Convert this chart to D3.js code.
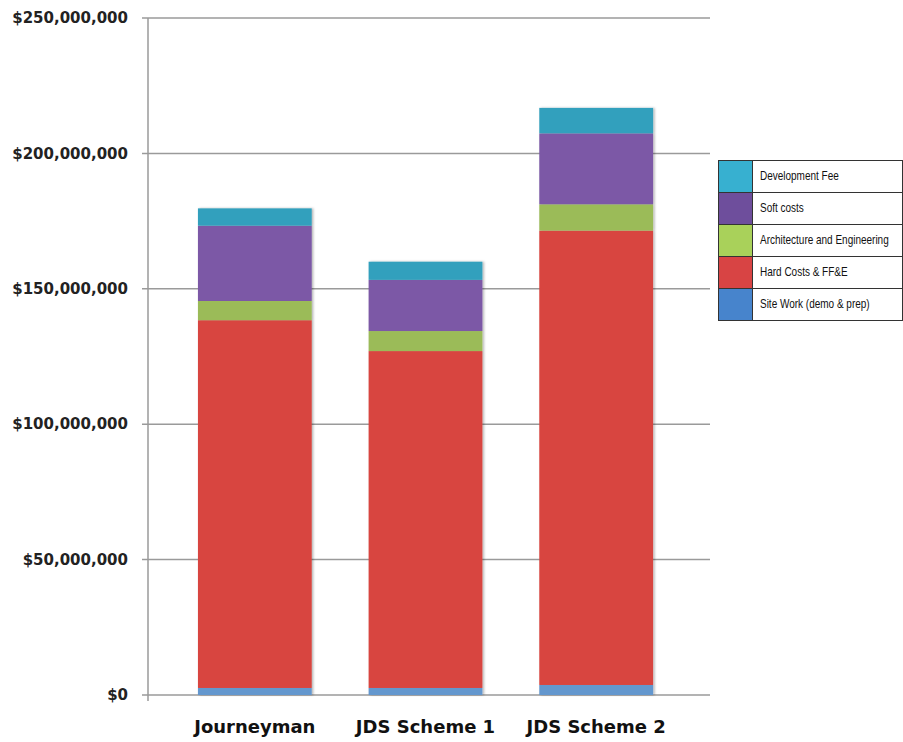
<!DOCTYPE html>
<html><head><meta charset="utf-8">
<script src="https://cdn.jsdelivr.net/npm/d3@7"></script>
<style>body{margin:0;background:#fff;}svg{display:block;}</style>
</head><body>
<svg id="chart" width="903" height="742"></svg>
<script>
const categories = ["Journeyman", "JDS Scheme 1", "JDS Scheme 2"];
const seriesNames = ["Site Work (demo & prep)", "Hard Costs & FF&E", "Architecture and Engineering", "Soft costs", "Development Fee"];
const siteWork    = [2.6e6, 2.6e6, 3.7e6];
const hardCosts   = [135.8e6, 124.4e6, 167.8e6];
const archEng     = [7.1e6, 7.4e6, 9.7e6];
const softCosts   = [27.8e6, 18.9e6, 26.2e6];
const devFee      = [6.4e6, 6.7e6, 9.4e6];
const tickValues  = [0, 50e6, 100e6, 150e6, 200e6, 250e6];
const barColors    = ["#6497CE", "#D84540", "#9BBB59", "#7B58A6", "#31A0BD"];
const legendColors = ["#4784CC", "#D84444", "#A9D15A", "#6E4E9C", "#37B0D0"];

const svg = d3.select("#chart");
const plot = {left: 148, right: 710, top: 18, bottom: 695};
const y = d3.scaleLinear().domain([0, 250e6]).range([plot.bottom, plot.top]);
const x = d3.scaleBand().domain(categories).range([169.5, 681.5]).paddingInner(1/3).paddingOuter(1/6);

// gridlines
svg.append("g").selectAll("line").data(tickValues).join("line")
  .attr("x1", plot.left - 6).attr("x2", plot.right)
  .attr("y1", d => y(d)).attr("y2", d => y(d))
  .attr("stroke", "#9a9a9a").attr("stroke-width", 1.5);

// y axis line
svg.append("line").attr("x1", plot.left).attr("x2", plot.left)
  .attr("y1", plot.top).attr("y2", plot.bottom + 6)
  .attr("stroke", "#9a9a9a").attr("stroke-width", 1.5);

// y tick labels
const fmt = d => "$" + d3.format(",")(d);
svg.append("g").selectAll("text").data(tickValues).join("text")
  .attr("x", 128).attr("y", d => y(d)).attr("dy", "0.35em")
  .attr("text-anchor", "end")
  .attr("font-family", "DejaVu Sans, sans-serif").attr("font-size", 15).attr("font-weight", "bold")
  .attr("fill", "#222").text(fmt);

// stacked data
const seriesValues = [siteWork, hardCosts, archEng, softCosts, devFee];
const rows = categories.map((c, i) => {
  const o = {cat: c};
  seriesNames.forEach((s, j) => o[s] = seriesValues[j][i]);
  return o;
});
const stack = d3.stack().keys(seriesNames)(rows);

const defs = svg.append("defs");
const f = defs.append("filter").attr("id", "sh").attr("x", "-10%").attr("y", "-10%").attr("width", "130%").attr("height", "130%");
f.append("feDropShadow").attr("dx", 1.5).attr("dy", 0).attr("stdDeviation", 1).attr("flood-color", "#000").attr("flood-opacity", 0.3);

const gBars = svg.append("g").attr("filter", "url(#sh)");
stack.forEach((layer, j) => {
  gBars.append("g").attr("fill", barColors[j]).selectAll("rect").data(layer).join("rect")
    .attr("x", d => x(d.data.cat)).attr("width", x.bandwidth())
    .attr("y", d => y(d[1])).attr("height", d => y(d[0]) - y(d[1]));
});

// category labels
svg.append("g").selectAll("text").data(categories).join("text")
  .attr("x", d => x(d) + x.bandwidth() / 2).attr("y", 733)
  .attr("text-anchor", "middle")
  .attr("font-family", "DejaVu Sans, sans-serif").attr("font-size", 18).attr("font-weight", "bold")
  .attr("fill", "#111").text(d => d);

// legend
const lg = svg.append("g").attr("transform", "translate(718,160)");
const legendOrder = seriesNames.map((s, j) => ({name: s, color: legendColors[j]})).reverse();
const rowH = 32;
lg.selectAll("rect.sw").data(legendOrder).join("rect").attr("class", "sw")
  .attr("x", 0.5).attr("y", (d, i) => i * rowH + 0.5).attr("width", 34).attr("height", rowH)
  .attr("fill", d => d.color).attr("stroke", "#333").attr("stroke-width", 1);
lg.selectAll("line.rl").data(d3.range(legendOrder.length + 1)).join("line").attr("class", "rl")
  .attr("x1", 34.5).attr("x2", 185).attr("y1", i => i * rowH + 0.5).attr("y2", i => i * rowH + 0.5)
  .attr("stroke", "#333");
lg.append("line").attr("x1", 184.5).attr("x2", 184.5).attr("y1", 0.5).attr("y2", legendOrder.length * rowH + 0.5).attr("stroke", "#333");
lg.selectAll("text").data(legendOrder).join("text")
  .attr("transform", (d, i) => `translate(42,${i * rowH + rowH / 2}) scale(0.8,1)`)
  .attr("dy", "0.35em")
  .attr("font-family", "Liberation Sans, Arial, sans-serif").attr("font-size", 12.5)
  .attr("fill", "#111").text(d => d.name);
</script>
</body></html>
